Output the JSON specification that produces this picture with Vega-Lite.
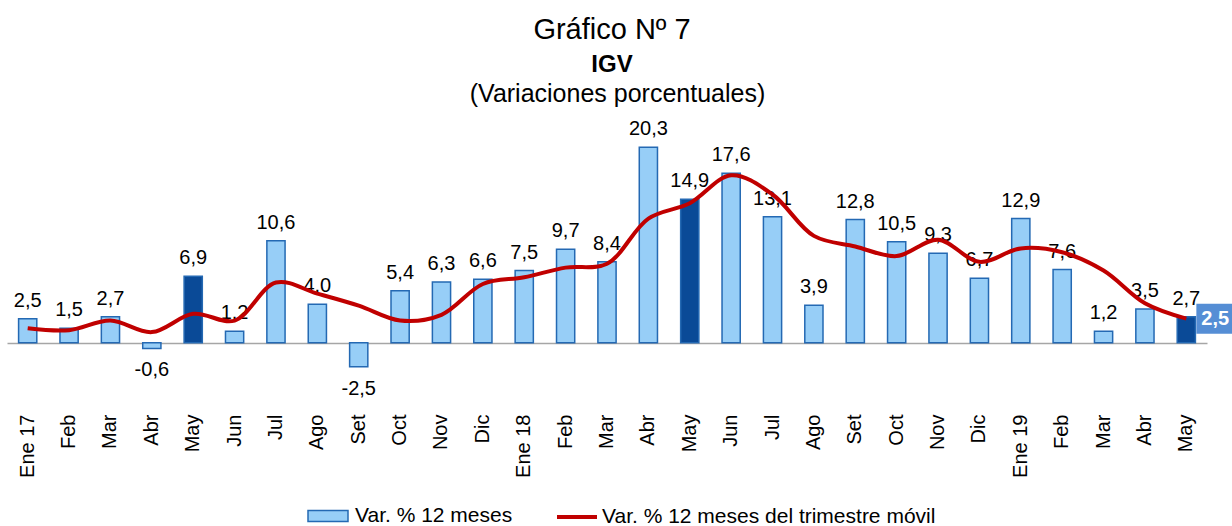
{
  "$schema": "https://vega.github.io/schema/vega-lite/v6.json",
  "width": 1200,
  "height": 280,
  "autosize": {"type": "none"},
  "padding": {"left": 7, "top": 131, "right": 25, "bottom": 115},
  "config": {
    "font": "Liberation Sans",
    "view": {"stroke": null},
    "locale": {"number": {"decimal": ",", "thousands": ".", "grouping": [3], "currency": ["", ""], "minus": "-"}}
  },
  "title": {
    "text": "Gráfico Nº 7",
    "subtitle": "IGV",
    "fontSize": 29,
    "fontWeight": "normal",
    "color": "black",
    "subtitleFontSize": 24,
    "subtitleFontWeight": "bold",
    "subtitleColor": "black",
    "subtitlePadding": 8,
    "anchor": "middle",
    "frame": "group",
    "dx": 5,
    "offset": 4
  },
  "data": {
    "values": [
      {"mes": "Ene 17", "v": 2.5, "m": 1.5, "hl": false, "s": "Var. % 12 meses"},
      {"mes": "Feb 17", "v": 1.5, "m": 1.3, "hl": false, "s": "Var. % 12 meses"},
      {"mes": "Mar 17", "v": 2.7, "m": 2.3, "hl": false, "s": "Var. % 12 meses"},
      {"mes": "Abr 17", "v": -0.6, "m": 1.1, "hl": false, "s": "Var. % 12 meses"},
      {"mes": "May 17", "v": 6.9, "m": 3.0, "hl": true, "s": "Var. % 12 meses"},
      {"mes": "Jun 17", "v": 1.2, "m": 2.3, "hl": false, "s": "Var. % 12 meses"},
      {"mes": "Jul 17", "v": 10.6, "m": 6.25, "hl": false, "s": "Var. % 12 meses"},
      {"mes": "Ago 17", "v": 4.0, "m": 5.1, "hl": false, "s": "Var. % 12 meses"},
      {"mes": "Set 17", "v": -2.5, "m": 3.85, "hl": false, "s": "Var. % 12 meses"},
      {"mes": "Oct 17", "v": 5.4, "m": 2.3, "hl": false, "s": "Var. % 12 meses"},
      {"mes": "Nov 17", "v": 6.3, "m": 2.9, "hl": false, "s": "Var. % 12 meses"},
      {"mes": "Dic 17", "v": 6.6, "m": 6.1, "hl": false, "s": "Var. % 12 meses"},
      {"mes": "Ene 18", "v": 7.5, "m": 6.8, "hl": false, "s": "Var. % 12 meses"},
      {"mes": "Feb 18", "v": 9.7, "m": 7.8, "hl": false, "s": "Var. % 12 meses"},
      {"mes": "Mar 18", "v": 8.4, "m": 8.2, "hl": false, "s": "Var. % 12 meses"},
      {"mes": "Abr 18", "v": 20.3, "m": 12.9, "hl": false, "s": "Var. % 12 meses"},
      {"mes": "May 18", "v": 14.9, "m": 14.5, "hl": true, "s": "Var. % 12 meses"},
      {"mes": "Jun 18", "v": 17.6, "m": 17.4, "hl": false, "s": "Var. % 12 meses"},
      {"mes": "Jul 18", "v": 13.1, "m": 15.4, "hl": false, "s": "Var. % 12 meses"},
      {"mes": "Ago 18", "v": 3.9, "m": 11.1, "hl": false, "s": "Var. % 12 meses"},
      {"mes": "Set 18", "v": 12.8, "m": 10.0, "hl": false, "s": "Var. % 12 meses"},
      {"mes": "Oct 18", "v": 10.5, "m": 9.0, "hl": false, "s": "Var. % 12 meses"},
      {"mes": "Nov 18", "v": 9.3, "m": 10.7, "hl": false, "s": "Var. % 12 meses"},
      {"mes": "Dic 18", "v": 6.7, "m": 8.4, "hl": false, "s": "Var. % 12 meses"},
      {"mes": "Ene 19", "v": 12.9, "m": 9.8, "hl": false, "s": "Var. % 12 meses"},
      {"mes": "Feb 19", "v": 7.6, "m": 9.4, "hl": false, "s": "Var. % 12 meses"},
      {"mes": "Mar 19", "v": 1.2, "m": 7.5, "hl": false, "s": "Var. % 12 meses"},
      {"mes": "Abr 19", "v": 3.5, "m": 4.1, "hl": false, "s": "Var. % 12 meses"},
      {"mes": "May 19", "v": 2.7, "m": 2.5, "hl": true, "s": "Var. % 12 meses"}
    ]
  },
  "encoding": {
    "x": {
      "field": "mes",
      "type": "nominal",
      "sort": null,
      "scale": {"paddingInner": 0.56, "paddingOuter": 0.28},
      "axis": {
        "title": null,
        "labelAngle": -90,
        "labelFontSize": 20,
        "labelColor": "black",
        "labelPadding": 3,
        "ticks": false,
        "domain": false,
        "labelExpr": "indexof(datum.value, 'Ene') == 0 ? datum.value : split(datum.value, ' ')[0]"
      }
    }
  },
  "layer": [
    {
      "mark": {"type": "bar", "stroke": "#2469B3", "strokeWidth": 1.5},
      "encoding": {
        "y": {
          "field": "v",
          "type": "quantitative",
          "title": "(Variaciones porcentuales)",
          "scale": {"domain": [-7.1, 22], "nice": false},
          "axis": {
            "labels": false, "ticks": false, "domain": false,
            "grid": true, "values": [0], "gridColor": "#A6A6A6", "gridWidth": 1.5,
            "titleAngle": 0, "titleX": 610, "titleY": -30, "titleAlign": "center",
            "titleBaseline": "alphabetic", "titleFontSize": 25, "titleFontWeight": "normal", "titleColor": "black"
          }
        },
        "fill": {
          "condition": {"test": "datum.hl", "value": "#0A4A97"},
          "field": "s",
          "type": "nominal",
          "scale": {"domain": ["Var. % 12 meses"], "range": ["#97CEF7"]},
          "legend": {
            "orient": "none",
            "legendX": 300,
            "legendY": 364,
            "direction": "horizontal",
            "title": null,
            "labelFontSize": 21,
            "labelColor": "black",
            "labelOffset": 6,
            "labelLimit": 0,
            "symbolType": "M-1,-0.27H1V0.27H-1Z",
            "symbolSize": 1600,
            "symbolStrokeColor": "#2469B3",
            "symbolStrokeWidth": 1.5,
            "symbolOpacity": 1,
            "padding": 0
          }
        }
      }
    },
    {
      "transform": [{"filter": "datum.v >= 0"}],
      "mark": {"type": "text", "baseline": "alphabetic", "dy": -12, "fontSize": 20, "color": "black"},
      "encoding": {
        "y": {"field": "v", "type": "quantitative", "title": "(Variaciones porcentuales)"},
        "text": {"field": "v", "type": "quantitative", "format": ".1f"}
      }
    },
    {
      "transform": [{"filter": "datum.v < 0"}],
      "mark": {"type": "text", "baseline": "top", "dy": 12, "fontSize": 20, "color": "black"},
      "encoding": {
        "y": {"field": "v", "type": "quantitative", "title": "(Variaciones porcentuales)"},
        "text": {"field": "v", "type": "quantitative", "format": ".1f"}
      }
    },
    {
      "mark": {"type": "line", "interpolate": "catmull-rom", "strokeWidth": 4},
      "encoding": {
        "y": {"field": "m", "type": "quantitative", "title": "(Variaciones porcentuales)"},
        "stroke": {
          "datum": "Var. % 12 meses del trimestre móvil",
          "scale": {"domain": ["Var. % 12 meses del trimestre móvil"], "range": ["#C00000"]},
          "legend": {
            "orient": "none",
            "legendX": 548,
            "legendY": 364,
            "direction": "horizontal",
            "title": null,
            "labelFontSize": 21,
            "labelColor": "black",
            "labelOffset": 3,
            "labelLimit": 0,
            "symbolType": "stroke",
            "symbolSize": 1600,
            "symbolStrokeWidth": 4,
            "padding": 0
          }
        }
      }
    },
    {
      "transform": [{"filter": "datum.mes === 'May 19'"}],
      "mark": {"type": "point", "shape": "M0.67,-1H3.5V1H0.67Z", "size": 900, "filled": true, "fill": "#558ED5", "opacity": 1, "strokeWidth": 0},
      "encoding": {
        "y": {"field": "m", "type": "quantitative", "title": "(Variaciones porcentuales)"}
      }
    },
    {
      "transform": [{"filter": "datum.mes === 'May 19'"}],
      "mark": {"type": "text", "align": "left", "baseline": "middle", "dx": 15, "fontSize": 20, "fontWeight": "bold", "color": "white"},
      "encoding": {
        "y": {"field": "m", "type": "quantitative", "title": "(Variaciones porcentuales)"},
        "text": {"field": "m", "type": "quantitative", "format": ".1f"}
      }
    }
  ]
}
